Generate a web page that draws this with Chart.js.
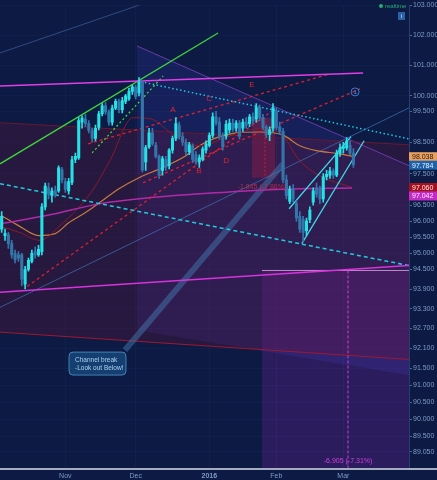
<!DOCTYPE html>
<html>
<head>
<meta charset="utf-8">
<script src="https://cdn.jsdelivr.net/npm/chart.js@4.4.1/dist/chart.umd.min.js"></script>
<style>
  html, body { margin: 0; padding: 0; background: #0c1a44; }
  #wrap { width: 437px; height: 480px; }
</style>
</head>
<body>
<div id="wrap"><canvas id="dxChart" width="437" height="480"></canvas></div>
<script>
// daily candles, Oct 6 2015 .. Mar 2016
const opens  = [95.75,95.55,95.58,95.30,95.00,94.95,94.95,94.05,94.50,94.75,95.05,94.95,95.05,96.45,97.05,96.80,96.95,96.95,97.62,97.25,
                96.95,97.22,97.95,98.00,99.15,99.25,99.10,98.88,98.62,98.98,99.42,99.68,99.48,99.15,99.60,99.82,99.55,99.82,99.90,100.15,
                100.28,100.10,100.45,97.87,98.35,98.80,98.40,98.05,97.60,97.95,97.75,98.25,98.62,99.05,98.68,98.50,98.20,98.38,98.10,97.87,
                97.95,98.25,98.40,98.72,99.32,99.15,98.68,98.70,98.90,99.12,98.95,99.12,98.95,99.15,99.10,99.32,99.25,99.62,99.30,98.98,
                98.75,98.95,99.50,99.00,98.85,97.30,96.62,97.00,96.55,96.15,96.05,95.70,96.05,96.60,97.05,97.00,96.70,97.40,97.45,97.58,
                97.45,98.15,98.30,98.32,98.40,98.15];
const highs  = [96.30,95.75,95.65,95.40,95.10,95.05,95.00,94.60,94.85,95.10,95.20,95.25,96.55,97.20,97.20,97.05,97.10,97.75,97.70,97.35,
                97.35,98.05,98.15,99.30,99.35,99.40,99.20,98.95,99.05,99.50,99.75,99.78,99.55,99.70,99.90,99.90,99.95,100.05,100.25,100.35,
                100.35,100.60,100.52,98.40,98.95,98.95,98.50,98.10,98.05,98.05,98.30,98.70,99.30,99.15,98.80,98.60,98.50,98.45,98.20,98.10,
                98.35,98.55,98.80,99.45,99.50,99.30,98.80,99.20,99.25,99.25,99.20,99.20,99.25,99.30,99.40,99.45,99.75,99.70,99.40,99.05,
                99.00,99.75,99.60,99.15,98.95,97.45,97.10,97.15,96.65,96.30,96.15,96.10,96.45,97.05,97.20,97.10,97.50,97.60,97.70,97.65,
                98.25,98.45,98.50,98.65,98.55,98.30];
const lows   = [95.65,95.40,95.15,94.85,94.70,94.75,94.00,93.90,94.45,94.70,94.85,94.90,94.95,96.35,96.70,96.60,96.75,96.90,97.20,96.90,
                96.85,97.15,97.85,97.95,98.95,99.00,98.80,98.50,98.55,98.90,99.35,99.40,99.05,99.05,99.55,99.45,99.45,99.75,99.85,100.05,
                99.90,100.00,97.55,97.60,98.30,98.40,98.00,97.35,97.45,97.60,97.65,98.15,98.55,98.60,98.40,98.10,98.10,97.85,97.80,97.70,
                97.90,98.15,98.35,98.65,99.05,98.60,98.25,98.60,98.80,98.85,98.85,98.60,98.85,98.95,99.00,99.10,99.15,99.20,98.90,98.65,
                98.55,98.85,98.90,98.75,97.20,96.70,96.55,96.60,96.00,95.65,95.35,95.55,95.95,96.50,96.75,96.55,96.60,97.30,97.35,97.35,
                97.40,98.05,98.15,98.25,98.10,97.70];
const closes = [96.15,95.62,95.30,94.95,94.80,94.85,94.20,94.50,94.78,95.00,94.95,95.12,96.45,97.10,96.85,96.95,96.85,97.68,97.30,97.00,
                97.25,97.94,98.05,99.20,99.28,99.10,98.88,98.62,98.95,99.42,99.68,99.48,99.15,99.60,99.82,99.55,99.85,100.00,100.15,100.30,
                99.98,100.45,97.62,98.33,98.80,98.45,98.05,97.45,97.98,97.70,98.25,98.62,99.10,98.68,98.50,98.20,98.42,97.95,97.87,98.00,
                98.28,98.45,98.72,99.32,99.12,98.68,98.35,99.08,99.12,98.92,99.12,98.70,99.15,99.05,99.32,99.20,99.62,99.30,98.98,98.75,
                98.90,99.62,98.98,98.85,97.30,96.80,97.00,96.70,96.10,95.75,95.65,96.00,96.35,96.95,96.85,96.70,97.40,97.48,97.58,97.45,
                98.15,98.32,98.38,98.55,98.15,97.784];

const monthIdx = [19, 40, 62, 82, 102];
const monthNames = ['Nov', 'Dec', '2016', 'Feb', 'Mar'];
const priceTicks = [103, 102, 101, 100, 99.5, 98.5, 97.5, 96.5, 96, 95.5, 95, 94.5,
                    93.9, 93.3, 92.7, 92.1, 91.5, 91, 90.5, 90, 89.5, 89.05];

// moving averages
const maOrangeIdx = [0, 5, 11, 16, 20, 25, 30, 35, 41, 48, 55, 59, 64, 70, 77, 84, 89, 94, 101, 105];
const maOrangeVal = [96.17, 95.86, 95.55, 95.61, 95.95, 96.27, 96.64, 97.02, 97.37, 97.69, 98.07, 98.39, 98.64, 98.80, 98.83, 98.73, 98.39, 98.23, 98.13, 98.038];
const maRedIdx = [0, 5.5, 11.4, 17.4, 26.4, 32.3, 39.2, 44.3, 51.7, 59.2, 68.2, 77.1, 83.1, 89, 95, 104.6];
const maRedVal = [95.83, 95.64, 95.40, 95.86, 96.86, 97.91, 99.29, 99.26, 98.71, 98.39, 98.71, 98.94, 98.80, 97.91, 97.43, 97.06];
const maPinkIdx = [0, 14.4, 29.4, 44.3, 59.2, 74.1, 89, 104.6];
const maPinkVal = [95.92, 96.20, 96.55, 96.74, 96.86, 96.96, 97.02, 97.042];

// hand drawn lines: [bar, price] end points
const greenTrend   = [[-0.5, 97.81], [64.6, 102.07]];
const greenDotted  = [[27, 98.16], [48.2, 100.65]];
const pinkTop      = [[-0.5, 100.32], [107.9, 100.75]];
const pinkBottom   = [[-0.5, 93.80], [121.6, 94.62]];
const cyanDotted   = [[40.4, 100.49], [121.6, 98.61]];
const cyanDashed   = [[-0.5, 97.18], [121.6, 94.62]];
const redDash1     = [[7.6, 93.98], [81.6, 99.58]];
const redDash2     = [[25.8, 98.45], [98.0, 100.72]];
const redDash3     = [[42.2, 97.21], [107.0, 100.23]];
const wedgeUpper   = [[85.8, 96.39], [104.3, 98.68]];
const wedgeLower   = [[89.6, 95.30], [108.2, 98.55]];
const blueThin     = [[-0.5, 93.34], [121.6, 99.61]];
const blueFaint    = [[-0.5, 101.41], [44.3, 103.13]];
const calloutTail  = [[36.8, 92.05], [84.0, 97.81]];
const flatTop      = [[-0.5, 99.13], [121.6, 98.42]];
const flatBottom   = [[-0.5, 92.59], [121.6, 91.77]];
const fallTop      = [[40.4, 101.64], [121.6, 97.75]];
const fallBottom   = [[40.4, 92.65], [121.6, 91.30]];
const measureSmall = [[74.7, 99.29], [81.6, 99.29]];
const measureSmallLow = 97.37;
const measureBig   = [[77.7, 94.47], [121.6, 94.47]];
const measureBigMid = 103.4;
const measureSmallMid = 78.6;

const letterMarks = [
  { text: 'A', i: 51.1, p: 99.55 },
  { text: 'B', i: 58.9, p: 97.59 },
  { text: 'C', i: 61.9, p: 99.90 },
  { text: 'D', i: 67.0, p: 97.91 },
  { text: 'E', i: 74.7, p: 100.36 }
];

const UP = '#26e2e6';
const DOWN = '#3576aa';

function pts(arr) {
  return arr.map(a => ({ x: a[0], y: a[1] }));
}

function seg(arr, color, width, dash, order) {
  return {
    type: 'line',
    data: pts(arr),
    borderColor: color,
    borderWidth: width,
    borderDash: dash || [],
    pointRadius: 0,
    fill: false,
    order: order || 2
  };
}

function maLine(idx, vals, color, width) {
  return {
    type: 'line',
    data: idx.map((v, k) => ({ x: v, y: vals[k] })),
    borderColor: color,
    borderWidth: width,
    pointRadius: 0,
    cubicInterpolationMode: 'monotone',
    fill: false,
    order: 2
  };
}

const candleColors = closes.map((c, i) => c >= opens[i] ? UP : DOWN);

const datasets = [
  // flat channel + fill
  seg(flatTop, '#6a1830', 1, [], 4),
  Object.assign(seg(flatBottom, '#a01830', 1, [], 4), { fill: '-1', backgroundColor: 'rgba(120,20,55,0.26)' }),
  // falling channel + fill
  seg(fallTop, '#6a3aa8', 1, [], 4),
  Object.assign(seg(fallBottom, 'rgba(0,0,0,0)', 0, [], 4), { fill: '-1', backgroundColor: 'rgba(80,70,210,0.17)' }),
  // measure boxes
  Object.assign(seg(measureBig, 'rgba(230,160,235,0.8)', 1, [], 4), { fill: 'start', backgroundColor: 'rgba(170,40,200,0.2)' }),
  Object.assign(seg(measureSmall, 'rgba(0,0,0,0)', 0, [], 4), { fill: { value: measureSmallLow }, backgroundColor: 'rgba(190,25,45,0.4)' }),
  seg([[measureBigMid, 94.47], [measureBigMid, 88.58]], '#d040d0', 1, [3, 2], 3),
  seg([[measureSmallMid, 99.29], [measureSmallMid, measureSmallLow]], '#c02030', 1, [2, 2], 3),
  // other drawings
  seg(blueFaint, 'rgba(70,110,170,0.6)', 1, [], 3),
  seg(blueThin, 'rgba(60,120,180,0.7)', 1, [], 3),
  seg(calloutTail, 'rgba(70,130,185,0.45)', 6, [], 3),
  seg(pinkTop, '#e23de6', 1.5),
  seg(pinkBottom, '#d634da', 1.5),
  seg(greenTrend, '#3fd63a', 1.3),
  seg(greenDotted, '#3fd63a', 1.3, [2, 2.5]),
  seg(cyanDotted, '#22c8dc', 1.5, [1.5, 2.5]),
  seg(cyanDashed, '#22c8dc', 1.6, [4, 3]),
  seg(redDash1, '#e0202c', 1.3, [3, 3]),
  seg(redDash2, '#e0202c', 1.3, [3, 3]),
  seg(redDash3, '#e0202c', 1.3, [3, 3]),
  seg(wedgeUpper, '#3fd8e8', 1.3),
  seg(wedgeLower, '#3fd8e8', 1.3),
  maLine(maPinkIdx, maPinkVal, '#b02aa8', 1.5),
  maLine(maRedIdx, maRedVal, '#8a1a2a', 1),
  maLine(maOrangeIdx, maOrangeVal, '#c87a3c', 1.2),
  // candles
  {
    type: 'bar',
    data: closes.map((c, i) => ({ x: i, y: [lows[i], highs[i]] })),
    backgroundColor: candleColors,
    barThickness: 1,
    grouped: false,
    borderWidth: 0,
    order: 1
  },
  {
    type: 'bar',
    data: closes.map((c, i) => ({ x: i, y: [opens[i], c] })),
    backgroundColor: candleColors,
    barThickness: 2.4,
    grouped: false,
    borderWidth: 0,
    order: 0
  }
];

const background = {
  id: 'background',
  beforeDraw(chart) {
    const ctx = chart.ctx;
    ctx.save();
    ctx.fillStyle = '#0c1a44';
    ctx.fillRect(0, 0, chart.width, chart.height);
    ctx.restore();
  }
};

const notes = {
  id: 'notes',
  afterDatasetsDraw(chart) {
    const { ctx, scales: { x, y } } = chart;
    ctx.save();
    ctx.textAlign = 'center';
    ctx.textBaseline = 'middle';

    ctx.font = '8px "Liberation Sans", Arial';
    ctx.fillStyle = '#e5232f';
    letterMarks.forEach(m => ctx.fillText(m.text, x.getPixelForValue(m.i), y.getPixelForValue(m.p)));

    // circled 1
    const cx = x.getPixelForValue(105.5), cy = y.getPixelForValue(100.13);
    ctx.strokeStyle = '#3a7ad0';
    ctx.lineWidth = 1;
    ctx.beginPath();
    ctx.arc(cx, cy, 4, 0, Math.PI * 2);
    ctx.stroke();
    ctx.fillStyle = '#5a9ae8';
    ctx.font = '6px "Liberation Sans", Arial';
    ctx.fillText('1', cx, cy + 0.5);

    ctx.font = '7px "Liberation Sans", Arial';
    ctx.fillStyle = 'rgba(205,45,65,0.85)';
    ctx.fillText('-1.845 (-1.86%)', x.getPixelForValue(77.7), y.getPixelForValue(97.08));
    ctx.fillStyle = '#d040d8';
    ctx.fillText('-6.905 (-7.31%)', x.getPixelForValue(103.4), y.getPixelForValue(88.78));

    // callout
    const bx = x.getPixelForValue(20.1), by = y.getPixelForValue(91.99);
    ctx.fillStyle = 'rgba(30,95,150,0.55)';
    ctx.strokeStyle = 'rgba(80,150,200,0.8)';
    ctx.beginPath();
    ctx.roundRect(bx, by, 57, 23, 4);
    ctx.fill();
    ctx.stroke();
    ctx.fillStyle = '#a8d0f0';
    ctx.textAlign = 'left';
    ctx.font = '6.5px "Liberation Sans", Arial';
    ctx.fillText('Channel break', bx + 6, by + 8);
    ctx.fillText('-Look out Below!', bx + 6, by + 16);

    // realtime badge
    ctx.fillStyle = '#22b070';
    ctx.beginPath();
    ctx.arc(381, 6, 2, 0, Math.PI * 2);
    ctx.fill();
    ctx.font = '6px "Liberation Sans", Arial';
    ctx.fillText('realtime', 385, 6.5);
    ctx.fillStyle = '#2a62a8';
    ctx.fillRect(398, 12, 7, 8);
    ctx.fillStyle = '#d8e6f8';
    ctx.textAlign = 'center';
    ctx.fillText('i', 401.5, 16.5);
    ctx.restore();
  },
  afterDraw(chart) {
    const { ctx, scales: { y } } = chart;
    ctx.save();
    // bottom rule
    ctx.strokeStyle = 'rgba(225,232,245,0.95)';
    ctx.lineWidth = 1.5;
    ctx.beginPath();
    ctx.moveTo(0, 469);
    ctx.lineTo(chart.width, 469);
    ctx.stroke();

    // last value tags
    const tags = [
      { v: maOrangeVal[maOrangeVal.length - 1], bg: '#e8a060', fg: '#2a1a10' },
      { v: closes[closes.length - 1], bg: '#1f62a8', fg: '#e8f0ff' },
      { v: maRedVal[maRedVal.length - 1], bg: '#a3101e', fg: '#ffe8e8' },
      { v: maPinkVal[maPinkVal.length - 1], bg: '#c22cc4', fg: '#ffe8ff' }
    ];
    ctx.font = '7px "Liberation Sans", Arial';
    ctx.textAlign = 'left';
    ctx.textBaseline = 'middle';
    let prev = -100;
    tags.forEach(t => {
      let py = y.getPixelForValue(t.v);
      if (py - prev < 8.5) py = prev + 8.5;
      prev = py;
      ctx.fillStyle = t.bg;
      ctx.fillRect(409, py - 4.5, 28, 9);
      ctx.fillStyle = t.fg;
      ctx.fillText(t.v.toFixed(3), 412, py + 0.5);
    });
    ctx.restore();
  }
};

Chart.defaults.font.family = '"Liberation Sans", Arial, sans-serif';

new Chart(document.getElementById('dxChart'), {
  type: 'bar',
  data: { datasets: datasets },
  options: {
    responsive: false,
    animation: false,
    devicePixelRatio: 1,
    layout: { padding: 0 },
    plugins: {
      legend: { display: false },
      tooltip: { enabled: false },
      filler: { drawTime: 'beforeDatasetsDraw' }
    },
    scales: {
      x: {
        type: 'linear',
        min: -0.5,
        max: 121.6,
        offset: false,
        grid: { color: 'rgba(120,150,200,0.05)', drawTicks: false, offset: false },
        border: { display: false },
        afterBuildTicks: s => { s.ticks = monthIdx.map(v => ({ value: v })); },
        afterFit: s => { s.height = 12; },
        ticks: {
          autoSkip: false,
          maxRotation: 0,
          padding: 4,
          color: '#7f9cc4',
          font: c => ({ size: 7, weight: c.tick && c.tick.value === 62 ? 'bold' : 'normal' }),
          callback: v => monthNames[monthIdx.indexOf(v)]
        }
      },
      y: {
        type: 'logarithmic',
        position: 'right',
        min: 88.58,
        max: 103.0,
        grid: { color: 'rgba(120,150,200,0.04)', tickLength: 3, tickColor: '#4a6a98' },
        border: { color: '#23406e' },
        afterBuildTicks: s => { s.ticks = priceTicks.map(v => ({ value: v })); },
        afterFit: s => { s.width = 28; },
        ticks: {
          autoSkip: false,
          padding: 1,
          color: '#7f9cc4',
          font: { size: 7 },
          callback: v => Number(v).toFixed(3)
        }
      }
    }
  },
  plugins: [background, notes]
});
</script>
</body>
</html>
